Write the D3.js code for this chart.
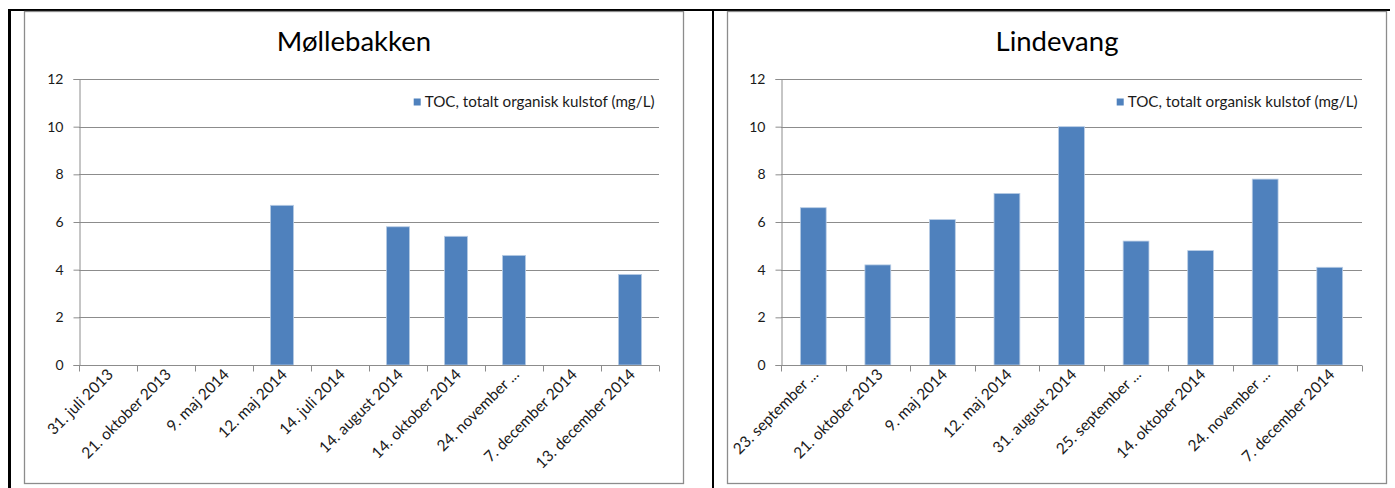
<!DOCTYPE html>
<html>
<head>
<meta charset="utf-8">
<script src="https://cdn.jsdelivr.net/npm/d3@7"></script>
<style>
  html, body { margin: 0; padding: 0; background: #fff; }
  svg { display: block; font-family: Lato, "Open Sans", sans-serif; }
</style>
</head>
<body>
<svg id="chart" width="1395" height="488"></svg>
<script>
// TOC measurements (mg/L) at the two sites
const molleCategories = ["31. juli 2013", "21. oktober 2013", "9. maj 2014", "12. maj 2014", "14. juli 2014",
  "14. august 2014", "14. oktober 2014", "24. november ...", "7. december 2014", "13. december 2014"];
const molleValues = [null, null, null, 6.7, null, 5.8, 5.4, 4.6, null, 3.8];

const lindeCategories = ["23. september ...", "21. oktober 2013", "9. maj 2014", "12. maj 2014", "31. august 2014",
  "25. september ...", "14. oktober 2014", "24. november ...", "7. december 2014"];
const lindeValues = [6.6, 4.2, 6.1, 7.2, 10, 5.2, 4.8, 7.8, 4.1];

const yTicks = [0, 2, 4, 6, 8, 10, 12];
const seriesName = "TOC, totalt organisk kulstof (mg/L)";

const svg = d3.select("#chart");

// table borders around the two charts
const black = svg.append("g").attr("fill", "#000");
black.append("rect").attr("x", 8).attr("y", 9).attr("width", 1382).attr("height", 2);
black.append("rect").attr("x", 8).attr("y", 9).attr("width", 3).attr("height", 479);
black.append("rect").attr("x", 712).attr("y", 9).attr("width", 2).attr("height", 479);

function drawChart(frame, plot, title, categories, values) {
  const g = svg.append("g");

  g.append("rect")
    .attr("x", frame.x0 + 0.5).attr("y", frame.y0 + 0.5)
    .attr("width", frame.x1 - frame.x0).attr("height", frame.y1 - frame.y0)
    .attr("fill", "#fff").attr("stroke", "#8c8c8c").attr("stroke-width", 1.3);

  g.append("text")
    .attr("x", (frame.x0 + frame.x1) / 2 + 0.5).attr("y", 51)
    .attr("text-anchor", "middle")
    .attr("font-size", 27.5).attr("fill", "#000")
    .text(title);

  const x = d3.scaleBand().domain(categories)
    .range([plot.left, plot.right]).paddingInner(0.6).paddingOuter(0.3);
  const y = d3.scaleLinear().domain([0, 12]).range([plot.bottom, plot.top]);

  // horizontal gridlines
  g.append("g").selectAll("line").data(yTicks.filter(t => t > 0)).join("line")
    .attr("x1", plot.left).attr("x2", plot.right)
    .attr("y1", d => Math.round(y(d)) + 0.5).attr("y2", d => Math.round(y(d)) + 0.5)
    .attr("stroke", "#8c8c8c").attr("stroke-width", 1);

  // y axis
  const yAxis = g.append("g")
    .attr("transform", `translate(${plot.left + 0.5},0)`)
    .call(d3.axisLeft(y).tickValues(yTicks).tickSize(6).tickPadding(10).tickFormat(d3.format("d")));
  yAxis.select(".domain").attr("stroke", "#8c8c8c");
  yAxis.selectAll(".tick line").attr("stroke", "#8c8c8c");
  yAxis.selectAll(".tick text").attr("font-size", 14).attr("fill", "#1a1a1a")
    .attr("font-family", "Lato, sans-serif");

  // bars
  g.append("g").selectAll("rect")
    .data(categories.map((c, i) => ({ c, v: values[i] })).filter(d => d.v != null))
    .join("rect")
    .attr("x", d => x(d.c)).attr("width", x.bandwidth())
    .attr("y", d => y(d.v)).attr("height", d => y(0) - y(d.v))
    .attr("fill", "#4f81bd").attr("stroke", "#b9cde5").attr("stroke-width", 0.8);

  // x axis: baseline and ticks between categories
  const step = x.step();
  const xb = Math.round(y(0)) + 0.5;
  g.append("line").attr("x1", plot.left).attr("x2", plot.right)
    .attr("y1", xb).attr("y2", xb).attr("stroke", "#8c8c8c");
  g.append("g").selectAll("line").data(d3.range(categories.length + 1)).join("line")
    .attr("x1", i => Math.round(plot.left + i * step) + 0.5)
    .attr("x2", i => Math.round(plot.left + i * step) + 0.5)
    .attr("y1", xb).attr("y2", xb + 6).attr("stroke", "#8c8c8c");

  // rotated category labels
  g.append("g").selectAll("text").data(categories).join("text")
    .attr("transform", d => `translate(${x(d) + x.bandwidth() / 2 + 6},${xb + 10}) rotate(-45)`)
    .attr("text-anchor", "end")
    .attr("font-size", 15.5).attr("fill", "#1a1a1a")
    .text(d => d);

  // legend
  const lt = g.append("text")
    .attr("x", plot.right - 4.5).attr("y", 107)
    .attr("text-anchor", "end").attr("font-size", 15.2).attr("fill", "#1a1a1a")
    .text(seriesName);
  const bb = lt.node().getBBox();
  g.append("rect").attr("x", bb.x - 11).attr("y", 98.5).attr("width", 7).attr("height", 7)
    .attr("fill", "#4f81bd");
}

drawChart({ x0: 24, y0: 11, x1: 683, y1: 483 }, { left: 79, right: 659, top: 79, bottom: 365 },
  "Møllebakken", molleCategories, molleValues);
drawChart({ x0: 727, y0: 11, x1: 1386, y1: 483 }, { left: 781, right: 1362, top: 79, bottom: 365 },
  "Lindevang", lindeCategories, lindeValues);
</script>
</body>
</html>
